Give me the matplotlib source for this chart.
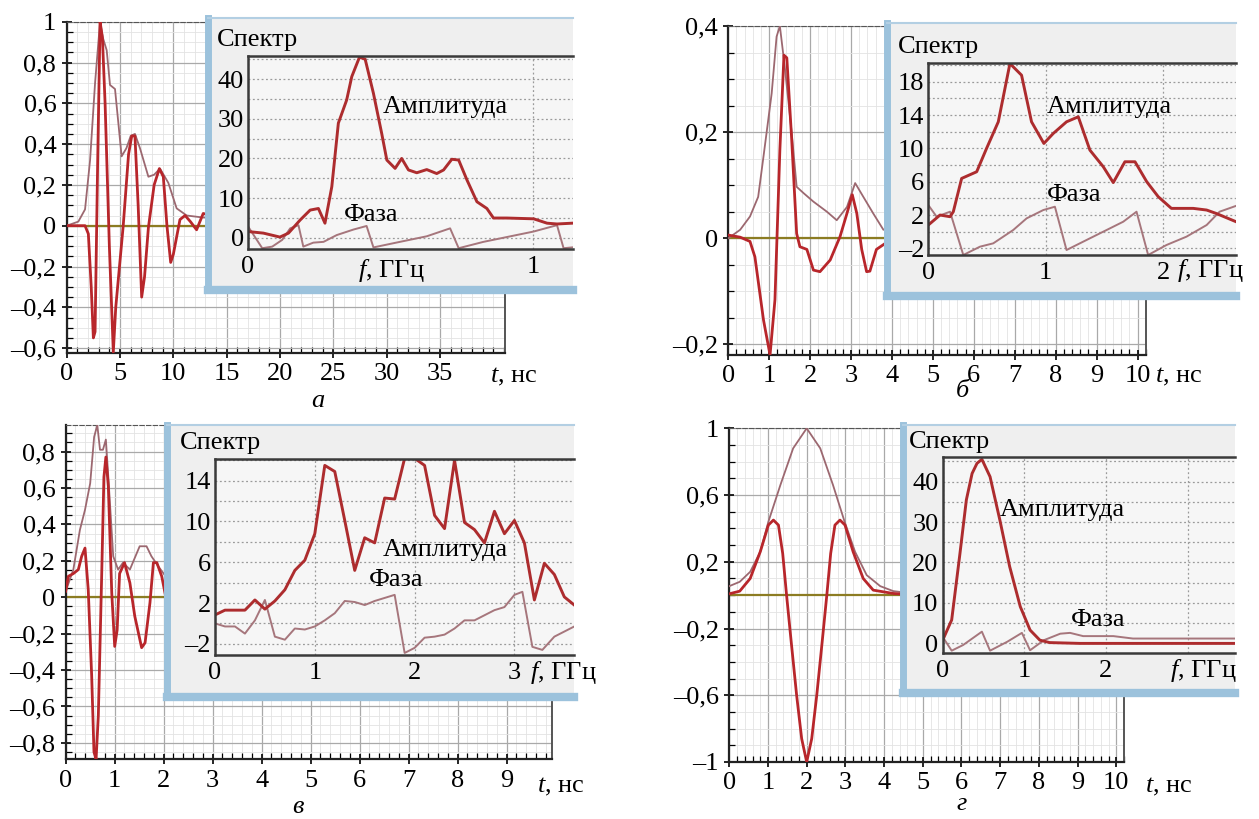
import matplotlib.pyplot as plt
from matplotlib.ticker import MultipleLocator, FuncFormatter

W, H = 1259, 819
plt.rcParams['font.family'] = ['Liberation Serif', 'DejaVu Serif']
plt.rcParams['mathtext.fontset'] = 'custom'
plt.rcParams['mathtext.it'] = 'Liberation Serif:italic'
plt.rcParams['mathtext.rm'] = 'Liberation Serif'
FS = 19

SIG = '#b8262b'
ENV = '#9c6870'
ZERO = '#8c7c22'
AMP = '#ad2c2e'
PH = '#a6767c'

# ---- panel а ----
a_sig_t = [0, 1.72, 2.03, 2.3, 2.5, 2.66, 2.9, 3.13, 3.35, 3.6, 4.0, 4.37, 4.6, 5.3, 5.8, 6.1, 6.4,
           6.7, 7.03, 7.3, 7.66, 8.2, 8.69, 9.06, 9.4, 9.75, 10.0, 10.62, 11.1, 11.6, 12.18, 12.8, 13.5]
a_sig_v = [0, 0, -0.04, -0.3, -0.55, -0.52, 0.3, 1.0, 0.92, 0.6, -0.1, -0.62, -0.4, 0.0, 0.35, 0.44, 0.44,
           0.1, -0.35, -0.25, -0.01, 0.2, 0.28, 0.24, 0.0, -0.18, -0.14, 0.03, 0.05, 0.02, -0.02, 0.06, 0.05]
a_env_t = [0, 1.09, 1.72, 2.19, 2.66, 3.13, 3.4, 3.75, 4.06, 4.53, 5.15, 5.6, 6.0, 6.4, 6.87, 7.66,
           8.2, 8.75, 9.53, 10.31, 11.25, 12.8, 13.5]
a_env_v = [0, 0.02, 0.08, 0.32, 0.70, 1.0, 0.92, 0.86, 0.69, 0.67, 0.34, 0.38, 0.44, 0.45, 0.38, 0.24,
           0.25, 0.28, 0.21, 0.085, 0.05, 0.04, 0.04]
a_amp_f = [0, 0.054, 0.112, 0.142, 0.183, 0.218, 0.247, 0.270, 0.294, 0.317, 0.346, 0.364, 0.391, 0.411,
           0.440, 0.469, 0.487, 0.516, 0.539, 0.563, 0.592, 0.627, 0.662, 0.686, 0.715, 0.739, 0.768,
           0.803, 0.838, 0.861, 0.908, 1.002, 1.049, 1.084, 1.137]
a_amp_v = [1.6, 1.2, 0.2, 1.2, 4.5, 7.0, 7.4, 3.7, 12.9, 28.9, 34.7, 40.6, 45.5, 45.0, 36.4, 26.3, 19.6,
           17.5, 20.0, 17.1, 16.4, 17.2, 16.2, 17.1, 19.8, 19.6, 14.6, 9.1, 7.4, 5.0, 5.0, 4.8, 3.7, 3.5, 3.7]
a_ph_f = [0, 0.05, 0.085, 0.12, 0.148, 0.177, 0.194, 0.229, 0.265, 0.311, 0.37, 0.416, 0.44, 0.533,
          0.627, 0.709, 0.739, 0.826, 1.002, 1.084, 1.107, 1.137]
a_ph_v = [2.9, -2.6, -2.2, -0.5, 2.4, 3.2, -2.2, -1.2, -1.0, 0.7, 2.1, 3.0, -2.4, -1.0, 0.4, 2.4, -2.6,
          -1.0, 1.6, 3.2, -2.6, -2.4]

# ---- panel б ----
b_sig_t = [0, 0.29, 0.53, 0.65, 0.86, 1.02, 1.14, 1.26, 1.36, 1.43, 1.55, 1.67, 1.75, 1.92, 2.08, 2.24,
           2.49, 2.73, 2.9, 3.03, 3.14, 3.26, 3.38, 3.46, 3.62, 3.83, 4.0]
b_sig_v = [0.006, 0.002, -0.006, -0.035, -0.154, -0.22, -0.116, 0.166, 0.345, 0.34, 0.185, 0.009, -0.016,
           -0.021, -0.06, -0.063, -0.041, 0.003, 0.047, 0.082, 0.047, -0.021, -0.063, -0.062, -0.021,
           -0.01, -0.01]
b_env_t = [0, 0.29, 0.53, 0.73, 0.86, 1.06, 1.18, 1.26, 1.38, 1.55, 1.67, 1.84, 2.08, 2.41, 2.65, 2.9,
           3.1, 3.3, 3.54, 3.79, 4.0]
b_env_v = [0.0, 0.016, 0.041, 0.078, 0.154, 0.273, 0.38, 0.40, 0.323, 0.198, 0.097, 0.085, 0.069, 0.05,
           0.034, 0.059, 0.104, 0.078, 0.047, 0.016, 0.02]
b_amp_f = [0, 0.1, 0.185, 0.213, 0.284, 0.412, 0.496, 0.596, 0.695, 0.794, 0.879, 0.984, 1.064, 1.177,
           1.277, 1.376, 1.49, 1.575, 1.674, 1.76, 1.86, 1.958, 2.07, 2.256, 2.37, 2.45, 2.62]
b_amp_v = [0.8, 2.0, 1.8, 2.4, 6.4, 7.2, 10, 13.2, 20.2, 18.8, 13.2, 10.6, 11.8, 13.2, 13.8, 9.8, 7.8,
           5.9, 8.4, 8.4, 6.0, 4.2, 2.8, 2.8, 2.6, 2.2, 1.2]
b_ph_f = [0, 0.071, 0.185, 0.298, 0.44, 0.553, 0.723, 0.837, 0.979, 1.078, 1.177, 1.347, 1.518, 1.66,
          1.773, 1.872, 2.028, 2.198, 2.37, 2.48, 2.62]
b_ph_v = [3.2, 1.8, 2.4, -2.8, -1.8, -1.4, 0.2, 1.6, 2.6, 3.0, -2.2, -1.0, 0.2, 1.2, 2.4, -2.8, -1.6,
          -0.6, 0.8, 2.4, 3.1]

# ---- panel в ----
c_sig_t = [0, 0.054, 0.156, 0.258, 0.326, 0.394, 0.46, 0.53, 0.577, 0.62, 0.666, 0.734, 0.78, 0.82,
           0.87, 0.94, 1.0, 1.05, 1.1, 1.2, 1.31, 1.41, 1.55, 1.62, 1.72, 1.79, 1.86, 1.96, 2.04, 2.1]
c_sig_v = [0.033, 0.115, 0.13, 0.152, 0.225, 0.27, 0.042, -0.43, -0.85, -0.89, -0.65, 0.115, 0.66, 0.77,
           0.61, 0.024, -0.27, -0.18, 0.13, 0.19, 0.079, -0.104, -0.277, -0.25, -0.03, 0.19, 0.19, 0.115,
           0.005, 0.0]
c_env_t = [0, 0.156, 0.29, 0.394, 0.5, 0.58, 0.645, 0.7, 0.76, 0.82, 0.87, 0.97, 1.07, 1.17, 1.31, 1.51,
           1.65, 1.75, 1.89, 2.04, 2.1]
c_env_v = [0.033, 0.152, 0.37, 0.48, 0.626, 0.88, 0.946, 0.81, 0.81, 0.866, 0.66, 0.225, 0.152, 0.19,
           0.152, 0.28, 0.28, 0.225, 0.17, 0.115, 0.1]
c_amp_f = [0, 0.1, 0.2, 0.3, 0.4, 0.5, 0.6, 0.7, 0.8, 0.9, 1.0, 1.1, 1.2, 1.3, 1.4, 1.5, 1.6, 1.7, 1.8,
           1.9, 2.0, 2.1, 2.2, 2.3, 2.4, 2.5, 2.6, 2.7, 2.8, 2.9, 3.0, 3.1, 3.2, 3.3, 3.4, 3.5, 3.6]
c_amp_v = [0.83, 1.3, 1.3, 1.3, 2.3, 1.4, 2.2, 3.3, 5.2, 6.2, 8.8, 15.5, 14.9, 10.1, 5.2, 8.4, 7.9, 12.3,
           12.2, 16.2, 16.2, 15.5, 10.6, 9.3, 16.0, 9.9, 9.2, 7.9, 11.0, 8.8, 10.1, 7.9, 2.3, 5.9, 4.8,
           2.6, 1.8]
c_ph_f = [0, 0.1, 0.2, 0.3, 0.4, 0.5, 0.6, 0.7, 0.8, 0.9, 1.0, 1.1, 1.2, 1.3, 1.4, 1.5, 1.6, 1.7, 1.8,
          1.9, 2.0, 2.1, 2.2, 2.3, 2.4, 2.5, 2.6, 2.7, 2.8, 2.9, 3.0, 3.08, 3.18, 3.28, 3.4, 3.5, 3.6]
c_ph_v = [0.0, -0.3, -0.3, -1.0, 0.3, 2.3, -1.3, -1.6, -0.5, -0.6, -0.3, 0.3, 1.0, 2.2, 2.1, 1.8, 2.2,
          2.5, 2.8, -2.9, -2.4, -1.4, -1.3, -1.1, -0.5, 0.3, 0.3, 0.8, 1.3, 1.6, 2.8, 3.1, -2.3, -2.6,
          -1.3, -0.8, -0.3]

# ---- panel г ----
d_sig_t = [0, 0.27, 0.54, 0.8, 1.01, 1.14, 1.27, 1.38, 1.48, 1.6, 1.74, 1.87, 2.0, 2.13, 2.26, 2.4,
           2.52, 2.62, 2.73, 2.86, 2.99, 3.2, 3.46, 3.72, 4.24, 4.6]
d_sig_v = [0.008, 0.024, 0.10, 0.26, 0.42, 0.45, 0.42, 0.25, 0.0, -0.28, -0.6, -0.86, -1.0, -0.86, -0.6,
           -0.28, 0.0, 0.25, 0.42, 0.45, 0.42, 0.26, 0.10, 0.03, 0.01, 0.005]
d_env_t = [0, 0.27, 0.54, 0.8, 1.01, 1.32, 1.65, 2.0, 2.35, 2.68, 2.98, 3.25, 3.55, 3.9, 4.24, 4.6]
d_env_v = [0.054, 0.08, 0.14, 0.26, 0.44, 0.66, 0.88, 1.0, 0.88, 0.66, 0.44, 0.26, 0.12, 0.054, 0.024,
           0.014]
d_amp_f = [0, 0.11, 0.21, 0.29, 0.36, 0.42, 0.48, 0.58, 0.7, 0.82, 0.95, 1.07, 1.19, 1.31, 1.68, 3.6]
d_amp_v = [0.8, 5.8, 22, 35.5, 42, 44.5, 45.5, 41.2, 30.5, 19, 9.1, 3.3, 0.8, 0.2, 0.0, 0.0]
d_ph_f = [0, 0.11, 0.25, 0.48, 0.58, 0.79, 0.97, 1.07, 1.24, 1.44, 1.56, 1.72, 2.09, 2.33, 3.6]
d_ph_v = [1.6, -1.8, -0.4, 2.9, -1.8, 0.4, 2.6, -1.7, 0.8, 2.4, 2.6, 1.8, 1.8, 1.2, 1.2]


fig = plt.figure(figsize=(W / 100, H / 100), dpi=100)


def rect(x0, y0, x1, y1):
    return [x0 / W, 1 - y1 / H, (x1 - x0) / W, (y1 - y0) / H]


def ru(v, pos=None):
    if abs(v) < 1e-9:
        v = 0
    return f"{v:g}".replace('.', ',').replace('-', '–')


def ftext(x, y, s, **kw):
    kw.setdefault('fontsize', FS)
    kw.setdefault('va', 'center')
    fig.text(x / W, 1 - y / H, s, **kw)


def main_panel(box, ts, vs, te, ve, xlim, ylim, xticks, xminor, yticks, yminor):
    ax = fig.add_axes(rect(*box))
    ax.axhline(0, color=ZERO, lw=1.6, zorder=2)
    ax.plot(te, ve, color=ENV, lw=1.3, zorder=3)
    ax.plot(ts, vs, color=SIG, lw=2.0, zorder=4)
    ax.set_xlim(xlim)
    ax.set_ylim(ylim)
    ax.set_xticks(xticks)
    ax.set_yticks(yticks)
    ax.xaxis.set_minor_locator(MultipleLocator(xminor))
    ax.yaxis.set_minor_locator(MultipleLocator(yminor))
    ax.xaxis.set_major_formatter(FuncFormatter(ru))
    ax.yaxis.set_major_formatter(FuncFormatter(ru))
    ax.grid(which='major', color='#a9a9a9', lw=0.9)
    ax.grid(which='minor', color='#e3e3e3', lw=0.6)
    ax.set_axisbelow(True)
    ax.tick_params(which='major', direction='inout', length=7, width=1.2, labelsize=FS, pad=4)
    ax.tick_params(which='minor', direction='in', length=4, width=0.9)
    for s in ('left', 'bottom'):
        ax.spines[s].set_color('#222222')
        ax.spines[s].set_linewidth(1.6)
    ax.spines['right'].set_color('#555555')
    ax.spines['right'].set_linewidth(1.4)
    ax.spines['top'].set_color('#555555')
    ax.spines['top'].set_linestyle((0, (4, 2)))
    return ax


def inset(box, axbox, fa, va, fp, vp, xlim, ylim, xticks, xlabels, yticks, yminor):
    bx = fig.add_axes(rect(*box))
    bx.set_facecolor('#efefef')
    bx.set_xticks([])
    bx.set_yticks([])
    bx.spines['right'].set_visible(False)
    bx.spines['left'].set_color('#9cc2dc')
    bx.spines['left'].set_linewidth(5)
    bx.spines['bottom'].set_color('#9cc2dc')
    bx.spines['bottom'].set_linewidth(6)
    bx.spines['top'].set_color('#b3cfe3')
    bx.spines['top'].set_linewidth(1.5)

    ix = fig.add_axes(rect(*axbox))
    ix.set_facecolor('#f6f6f6')
    ix.plot(fp, vp, color=PH, lw=1.4)
    ix.plot(fa, va, color=AMP, lw=2.1)
    ix.set_xlim(xlim)
    ix.set_ylim(ylim)
    ix.set_xticks(xticks)
    ix.set_xticklabels(xlabels)
    ix.set_yticks(yticks)
    ix.yaxis.set_minor_locator(MultipleLocator(yminor))
    ix.yaxis.set_major_formatter(FuncFormatter(ru))
    ix.grid(which='both', axis='y', ls=(0, (1.5, 2)), color='#9a9a9a', lw=0.9)
    ix.grid(which='major', axis='x', ls=(0, (1.5, 2)), color='#9a9a9a', lw=0.9)
    ix.tick_params(which='both', length=0, labelsize=FS)
    ix.tick_params(axis='y', pad=3)
    ix.tick_params(axis='x', pad=5)
    ix.spines['right'].set_visible(False)
    for s in ('left', 'top', 'bottom'):
        ix.spines[s].set_color('#3a3a3a')
        ix.spines[s].set_linewidth(1.8)
    return ix


# а
main_panel((66.7, 21.7, 505, 353), a_sig_t, a_sig_v, a_env_t, a_env_v, (0, 41.1), (-0.624, 1.0),
           [0, 5, 10, 15, 20, 25, 30, 35], 1, [-0.6, -0.4, -0.2, 0, 0.2, 0.4, 0.6, 0.8, 1.0], 0.05)
inset((208, 18, 572.7, 290), (248, 56, 572.7, 249), a_amp_f, a_amp_v, a_ph_f, a_ph_v,
      (0, 1.139), (-2.8, 45.8), [0, 1], ['0', '1'], [0, 10, 20, 30, 40], 5)

# б
main_panel((728.3, 26, 1145.7, 355), b_sig_t, b_sig_v, b_env_t, b_env_v, (0, 10.2), (-0.22, 0.4),
           list(range(11)), 0.2, [-0.2, 0, 0.2, 0.4], 0.05)
inset((887, 23, 1236, 296), (928.3, 62.7, 1236, 255), b_amp_f, b_amp_v, b_ph_f, b_ph_v,
      (0, 2.62), (-2.8, 20.3), [0, 1, 2], ['0', '1', '2'], [-2, 2, 6, 10, 14, 18], 2)

# в
main_panel((65.7, 425, 551.7, 759.3), c_sig_t, c_sig_v, c_env_t, c_env_v, (0, 9.92), (-0.89, 0.946),
           list(range(10)), 0.2, [-0.8, -0.6, -0.4, -0.2, 0, 0.2, 0.4, 0.6, 0.8], 0.05)
inset((166.7, 425, 574.3, 697), (215, 459.3, 574.3, 655), c_amp_f, c_amp_v, c_ph_f, c_ph_v,
      (0, 3.6), (-3.1, 16.1), [0, 1, 2, 3], ['0', '1', '2', '3'], [-2, 2, 6, 10, 14], 2)

# г
main_panel((729.3, 428.3, 1124, 762), d_sig_t, d_sig_v, d_env_t, d_env_v, (0, 10.2), (-1.0, 1.0),
           list(range(11)), 0.2, [-1, -0.6, -0.2, 0.2, 0.6, 1], 0.1)
inset((903.3, 425, 1235, 693), (942.7, 457.3, 1235, 652.7), d_amp_f, d_amp_v, d_ph_f, d_ph_v,
      (0, 3.58), (-2.3, 46), [0, 1, 2, 3], ['0', '1', '2', ''], [0, 10, 20, 30, 40], 5)

# axis names and labels
ftext(490, 377, '$t$, нс')
ftext(1155, 377, '$t$, нс')
ftext(537, 787, '$t$, нс')
ftext(1145, 787, '$t$, нс')

ftext(358, 270, '$f$, ГГц')
ftext(1177, 270, '$f$, ГГц')
ftext(530, 673, '$f$, ГГц')
ftext(1170, 670, '$f$, ГГц')

for x, y in [(216.7, 40), (898, 47), (180, 443), (909, 442)]:
    ftext(x, y, 'Спектр')
for x, y in [(382.7, 107), (1046.7, 107), (382.7, 550), (1000, 510)]:
    ftext(x, y, 'Амплитуда')
for x, y in [(344, 215), (1046.7, 195), (369.3, 580), (1070.7, 620)]:
    ftext(x, y, 'Фаза')

ftext(318, 401, 'а', style='italic', ha='center')
ftext(962, 391, 'б', style='italic', ha='center')
ftext(298, 807, 'в', style='italic', ha='center')
ftext(962, 804, 'г', style='italic', ha='center')

fig.savefig('out.png', dpi=100)
